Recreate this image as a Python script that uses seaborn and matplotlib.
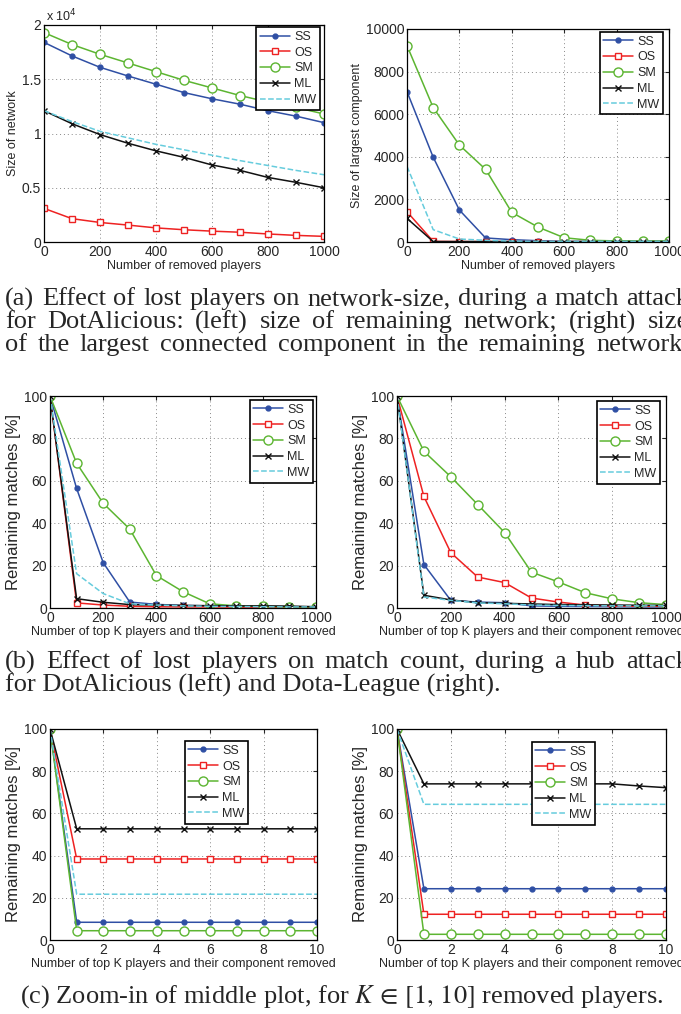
import matplotlib
matplotlib.use("Agg")
import matplotlib.pyplot as plt
import seaborn as sns
from matplotlib.ticker import FuncFormatter, MultipleLocator

# ---- data ----
x_removed = [0, 100, 200, 300, 400, 500, 600, 700, 800, 900, 1000]
x_topk = [0, 1, 2, 3, 4, 5, 6, 7, 8, 9, 10]
names = ["SS", "OS", "SM", "ML", "MW"]

# (a) left: size of remaining network
net_ss = [18400, 17150, 16100, 15300, 14540, 13770, 13200, 12700, 12100, 11600, 11000]
net_os = [3100, 2150, 1800, 1560, 1300, 1130, 1000, 900, 740, 610, 520]
net_sm = [19300, 18200, 17300, 16500, 15700, 14900, 14200, 13500, 12900, 12400, 11800]
net_ml = [12100, 10900, 9900, 9100, 8400, 7800, 7100, 6600, 5950, 5500, 5000]
net_mw = [12100, 11100, 10200, 9600, 9000, 8500, 8000, 7500, 7050, 6600, 6200]

# (a) right: size of largest component
lcc_ss = [7060, 3980, 1500, 190, 110, 60, 25, 20, 20, 20, 20]
lcc_os = [1420, 30, 20, 20, 20, 20, 20, 20, 20, 20, 20]
lcc_sm = [9220, 6310, 4550, 3410, 1390, 700, 200, 80, 50, 50, 50]
lcc_ml = [1110, 20, 20, 20, 20, 20, 20, 20, 20, 20, 20]
lcc_mw = [3550, 580, 140, 80, 40, 30, 30, 30, 30, 30, 30]

# (b) left: DotAlicious remaining matches [%]
da_ss = [100, 56.4, 21.4, 2.8, 1.7, 1.2, 1.0, 0.8, 0.7, 0.6, 0.5]
da_os = [100, 2.4, 1.4, 0.8, 0.6, 0.5, 0.5, 0.4, 0.4, 0.3, 0.3]
da_sm = [100, 68.3, 49.4, 37.2, 15.3, 7.7, 2.0, 1.0, 0.8, 0.5, 0.5]
da_ml = [100, 4.4, 2.7, 1.6, 1.4, 1.2, 1.1, 1.0, 1.0, 0.9, 0.6]
da_mw = [100, 16.2, 6.8, 2.0, 1.4, 1.0, 0.8, 0.7, 0.6, 0.5, 0.5]

# (b) right: Dota-League remaining matches [%]
dl_ss = [100, 20.5, 3.6, 2.8, 2.5, 1.0, 0.8, 0.7, 0.6, 0.5, 0.5]
dl_os = [100, 52.6, 26.1, 14.6, 12.0, 4.7, 2.8, 1.4, 1.0, 0.8, 0.8]
dl_sm = [100, 73.9, 61.9, 48.8, 35.6, 16.9, 12.3, 7.2, 4.3, 2.5, 1.6]
dl_ml = [100, 6.0, 3.8, 2.5, 2.2, 1.9, 1.6, 1.5, 1.4, 1.3, 1.2]
dl_mw = [100, 5.2, 3.6, 2.4, 2.0, 1.4, 1.2, 1.1, 1.0, 1.0, 1.0]

# (c) zoom-in, K in [0, 10]
zda_ss = [100, 8.4, 8.4, 8.4, 8.4, 8.4, 8.4, 8.4, 8.4, 8.4, 8.4]
zda_os = [100, 38.4, 38.4, 38.4, 38.4, 38.4, 38.4, 38.4, 38.4, 38.4, 38.4]
zda_sm = [100, 4.4, 4.4, 4.4, 4.4, 4.4, 4.4, 4.4, 4.4, 4.4, 4.4]
zda_ml = [100, 52.7, 52.7, 52.7, 52.7, 52.7, 52.7, 52.7, 52.7, 52.7, 52.7]
zda_mw = [100, 21.7, 21.7, 21.7, 21.7, 21.7, 21.7, 21.7, 21.7, 21.7, 21.7]

zdl_ss = [100, 24.3, 24.3, 24.3, 24.3, 24.3, 24.3, 24.3, 24.3, 24.3, 24.3]
zdl_os = [100, 12.2, 12.2, 12.2, 12.2, 12.2, 12.2, 12.2, 12.2, 12.2, 12.2]
zdl_sm = [100, 2.7, 2.7, 2.7, 2.7, 2.7, 2.7, 2.7, 2.7, 2.7, 2.7]
zdl_ml = [100, 74.0, 74.0, 74.0, 74.0, 74.0, 74.0, 74.0, 74.0, 73.0, 72.2]
zdl_mw = [100, 64.3, 64.3, 64.3, 64.3, 64.3, 64.3, 64.3, 64.3, 64.3, 64.3]

caption_a = ["(a) Effect of lost players on network-size, during a match attack",
             "for DotAlicious: (left) size of remaining network; (right) size",
             "of the largest connected component in the remaining network."]
caption_b = ["(b) Effect of lost players on match count, during a hub attack",
             "for DotAlicious (left) and Dota-League (right)."]
caption_c = r"(c) Zoom-in of middle plot, for $K\,\in\,[1,\,10]$ removed players."

# ---- style ----
sns.set_style("white")
plt.rcParams["font.family"] = ["Liberation Sans", "DejaVu Sans"]

styles = {
    "SS": dict(color="#2F4FA4", marker="o", mfc="#2F4FA4", ms=3.5, ls="-"),
    "OS": dict(color="#EE2222", marker="s", mfc="white", ms=5, ls="-"),
    "SM": dict(color="#5CB531", marker="o", mfc="white", ms=6.5, ls="-"),
    "ML": dict(color="#111111", marker="x", mfc="#111111", ms=4.5, ls="-"),
    "MW": dict(color="#66CCDD", marker=None, mfc="none", ms=0, ls="--"),
}

W, H = 681, 1014
fig = plt.figure(figsize=(W / 100, H / 100), dpi=100)


def add_ax(x0, x1, y0, y1):
    # pixel box -> figure fraction
    return fig.add_axes([x0 / W, 1 - y1 / H, (x1 - x0) / W, (y1 - y0) / H])


def panel(ax, x, series, xlabel, ylabel, xstep, ystep, ymax, leg_anchor,
          xfs=9, yfs=9, tfs=10):
    for name, y in zip(names, series):
        s = styles[name]
        sns.lineplot(x=x, y=y, ax=ax, color=s["color"], linestyle=s["ls"],
                     marker=s["marker"], markersize=s["ms"],
                     markerfacecolor=s["mfc"], markeredgecolor=s["color"],
                     markeredgewidth=1.0, linewidth=1.1, label=name,
                     legend=False)
    ax.set_xlim(x[0], x[-1])
    ax.set_ylim(0, ymax)
    ax.xaxis.set_major_locator(MultipleLocator(xstep))
    ax.yaxis.set_major_locator(MultipleLocator(ystep))
    ax.grid(True, linestyle=(0, (1, 3)), color="#888888", linewidth=0.7)
    ax.tick_params(direction="in", length=3, labelsize=tfs, top=True,
                   right=True, pad=2)
    for sp in ax.spines.values():
        sp.set_color("black")
        sp.set_linewidth(0.9)
    ax.set_xlabel(xlabel, fontsize=xfs, labelpad=1)
    ax.set_ylabel(ylabel, fontsize=yfs, labelpad=2)
    leg = ax.legend(loc="upper right", bbox_to_anchor=leg_anchor,
                    borderaxespad=0, fontsize=9, fancybox=False,
                    framealpha=1, edgecolor="black", handlelength=2.4,
                    handletextpad=0.3, labelspacing=0.3, borderpad=0.3)
    leg.get_frame().set_linewidth(1.2)


ax1 = add_ax(44, 324, 25, 242)
panel(ax1, x_removed, [net_ss, net_os, net_sm, net_ml, net_mw],
      "Number of removed players", "Size of network", 200, 5000, 20000,
      (0.985, 0.99))
ax1.yaxis.set_major_formatter(FuncFormatter(lambda v, p: f"{v / 1e4:g}"))
fig.text(46 / W, 1 - 16 / H, r"x 10$^4$", fontsize=9, va="center",
         math_fontfamily="dejavusans")

ax2 = add_ax(407, 669, 29, 242)
panel(ax2, x_removed, [lcc_ss, lcc_os, lcc_sm, lcc_ml, lcc_mw],
      "Number of removed players", "Size of largest component", 200, 2000,
      10000, (0.977, 0.986))

xl_k = "Number of top K players and their component removed"
ax3 = add_ax(50, 316, 396, 608)
panel(ax3, x_removed, [da_ss, da_os, da_sm, da_ml, da_mw], xl_k,
      "Remaining matches [%]", 200, 20, 100, (0.989, 0.981), xfs=9, yfs=12)
ax4 = add_ax(397, 666, 396, 608)
panel(ax4, x_removed, [dl_ss, dl_os, dl_sm, dl_ml, dl_mw], xl_k,
      "Remaining matches [%]", 200, 20, 100, (0.978, 0.976), xfs=9, yfs=12)

ax5 = add_ax(50, 317, 729, 940)
panel(ax5, x_topk, [zda_ss, zda_os, zda_sm, zda_ml, zda_mw], xl_k,
      "Remaining matches [%]", 2, 20, 100, (0.742, 0.943), xfs=9, yfs=12)
ax6 = add_ax(397, 666, 729, 940)
panel(ax6, x_topk, [zdl_ss, zdl_os, zdl_sm, zdl_ml, zdl_mw], xl_k,
      "Remaining matches [%]", 2, 20, 100, (0.736, 0.938), xfs=9, yfs=12)

# ---- captions ----
cap_kw = dict(family=["Liberation Serif", "DejaVu Serif"], fontsize=19,
              va="center", math_fontfamily="stix")
renderer = fig.canvas.get_renderer()


def caption_line(text, y, x0=5, x1=689, justify=True):
    if not justify:
        fig.text(x0 / W, 1 - y / H, text, **cap_kw)
        return
    words = text.split(" ")
    items = [fig.text(0, 1 - y / H, w, **cap_kw) for w in words]
    widths = [t.get_window_extent(renderer).width for t in items]
    gap = (x1 - x0 - sum(widths)) / (len(words) - 1)
    pos = x0
    for t, w in zip(items, widths):
        t.set_x(pos / W)
        pos += w + gap


caption_line(caption_a[0], 299)
caption_line(caption_a[1], 322)
caption_line(caption_a[2], 345)
caption_line(caption_b[0], 662)
caption_line(caption_b[1], 685, justify=False)
caption_line(caption_c, 997, x0=20, justify=False)

fig.savefig("out.png", dpi=100)
